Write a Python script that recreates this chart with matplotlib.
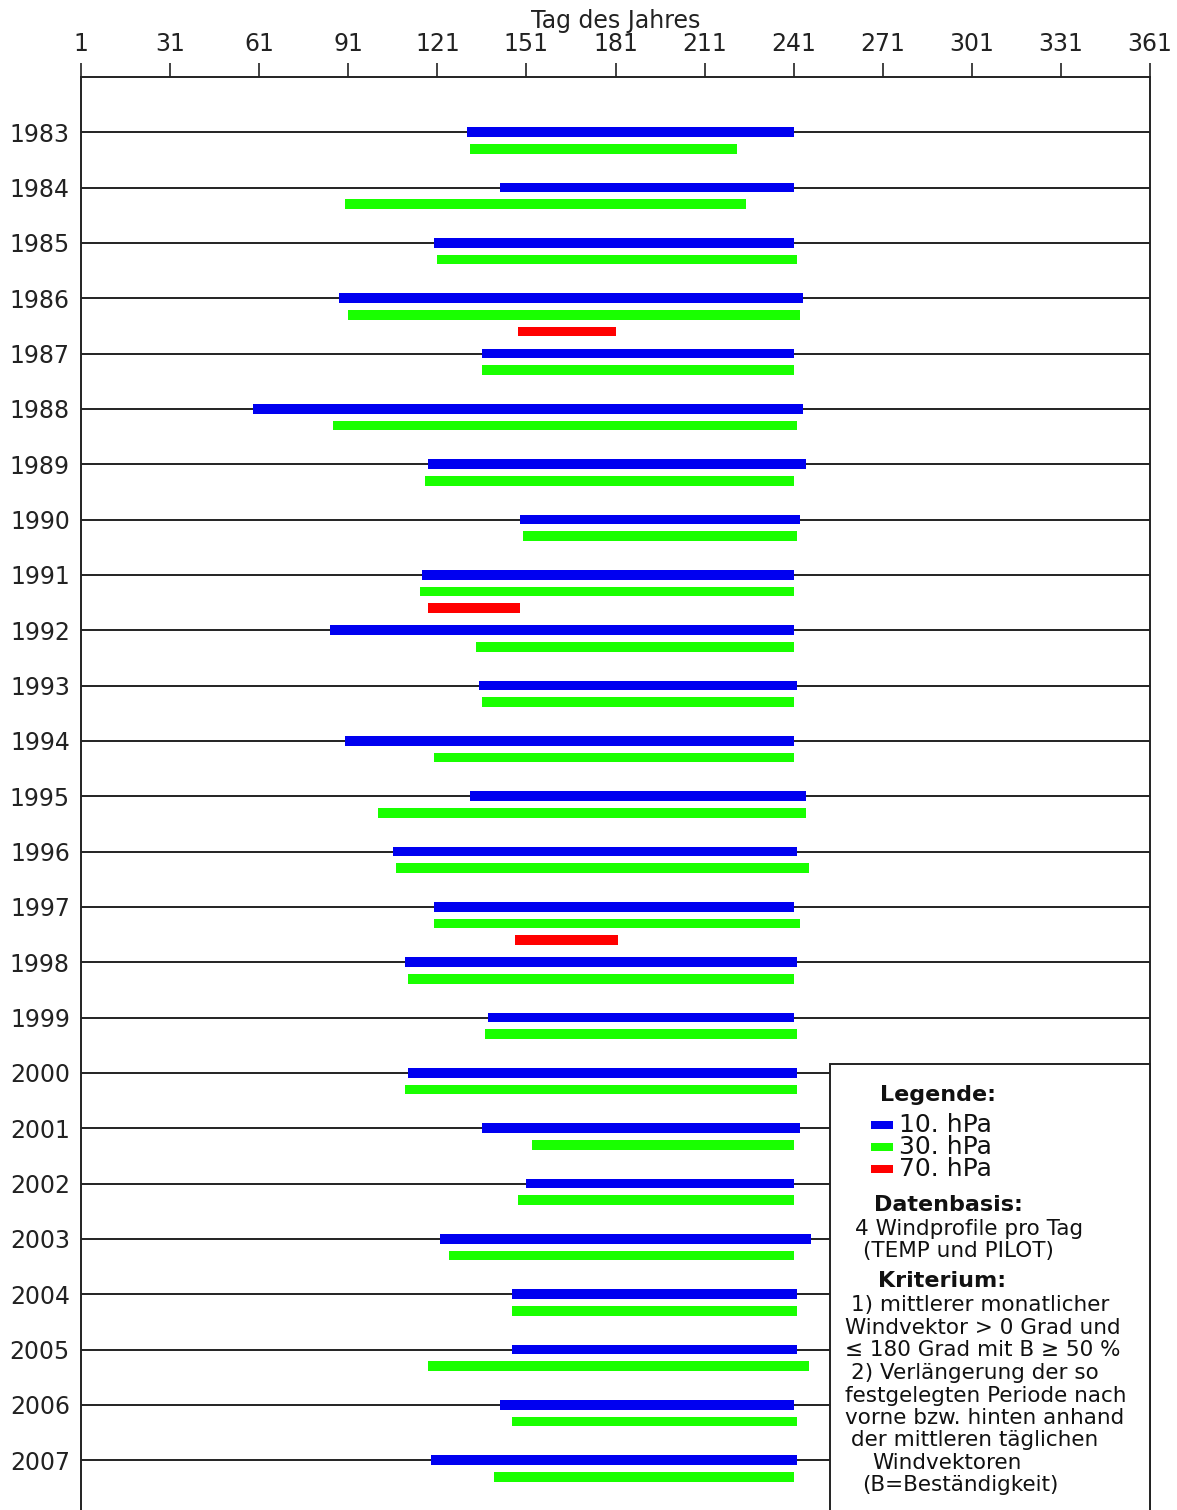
import matplotlib
matplotlib.use("Agg")
import matplotlib.pyplot as plt
from matplotlib.patches import Rectangle

# Ostwind-Perioden (Tag des Jahres) je Jahr und Druckniveau
years = list(range(1983, 2008))
blue_start = [131, 142, 120, 88, 136, 59, 118, 149, 116, 85, 135, 90, 132,
              106, 120, 110, 138, 111, 136, 151, 122, 146, 146, 142, 119]
blue_end = [241, 241, 241, 244, 241, 244, 245, 243, 241, 241, 242, 241, 245,
            242, 241, 242, 241, 242, 243, 241, 247, 242, 242, 241, 242]
green_start = [132, 90, 121, 91, 136, 86, 117, 150, 115, 134, 136, 120, 101,
               107, 120, 111, 137, 110, 153, 148, 125, 146, 118, 146, 140]
green_end = [222, 225, 242, 243, 241, 242, 241, 242, 241, 241, 241, 241, 245,
             246, 243, 241, 242, 242, 241, 241, 241, 242, 246, 242, 241]
red_years = [1986, 1991, 1997]
red_start = [148, 118, 147]
red_end = [181, 149, 182]
day_ticks = list(range(1, 362, 30))

W, H = 1177, 1510
BLUE, GREEN, RED = "#0000f0", "#19ff00", "#ff0000"

fig = plt.figure(figsize=(W / 100, H / 100), dpi=100)
ax = fig.add_axes([81 / W, 0, (1150 - 81) / W, 1 - 77 / H])

ax.set_xlim(1, 361)
ax.set_ylim(2007.9, 1982)

for y in years:
    ax.axhline(y, color="#222222", lw=1.4, zorder=1)

bh = 0.175
ax.barh(years, [e - s for s, e in zip(blue_start, blue_end)], left=blue_start,
        height=bh, color=BLUE, zorder=3)
ax.barh([y + 0.3 for y in years], [e - s for s, e in zip(green_start, green_end)],
        left=green_start, height=bh, color=GREEN, zorder=3)
ax.barh([y + 0.6 for y in red_years], [e - s for s, e in zip(red_start, red_end)],
        left=red_start, height=bh, color=RED, zorder=3)

ax.xaxis.tick_top()
ax.xaxis.set_label_position("top")
ax.set_xticks(day_ticks)
ax.tick_params(axis="x", direction="out", length=10, width=1.2, pad=5,
               labelsize=17, colors="#222222")
ax.set_xlabel("Tag des Jahres", fontsize=17, labelpad=3, color="#222222")
ax.set_yticks(years)
ax.tick_params(axis="y", length=0, pad=8, labelsize=17, colors="#222222")
for s in ["left", "right", "top"]:
    ax.spines[s].set_linewidth(1.4)
    ax.spines[s].set_color("#222222")
ax.spines["bottom"].set_visible(False)

# Legendenkasten
ax.add_patch(Rectangle((253.3, 1999.84), 361 - 253.3, 10, facecolor="white",
                       edgecolor="#222222", lw=1.4, zorder=5, clip_on=False))


def ftxt(px, py, s, **kw):
    fig.text(px / W, 1 - py / H, s, va="center", ha="left", zorder=10,
             color="#111111", **kw)


ftxt(880, 1095, "Legende:", fontsize=16, fontweight="bold")
for py, col, lab in [(1125, BLUE, "10. hPa"), (1147, GREEN, "30. hPa"), (1169, RED, "70. hPa")]:
    fig.patches.append(Rectangle((871 / W, 1 - (py + 4) / H), 22 / W, 8 / H,
                                 transform=fig.transFigure, facecolor=col,
                                 edgecolor="none", zorder=10))
    ftxt(899, py, lab, fontsize=18)
ftxt(874, 1205, "Datenbasis:", fontsize=16, fontweight="bold")
ftxt(855, 1229, "4 Windprofile pro Tag", fontsize=15.5)
ftxt(863, 1251, "(TEMP und PILOT)", fontsize=15.5)
ftxt(878, 1281, "Kriterium:", fontsize=16, fontweight="bold")
lines = [
    (851, 1305, "1) mittlerer monatlicher"),
    (845, 1328, "Windvektor > 0 Grad und"),
    (845, 1350, "≤ 180 Grad mit B ≥ 50 %"),
    (851, 1373, "2) Verlängerung der so"),
    (845, 1396, "festgelegten Periode nach"),
    (845, 1418, "vorne bzw. hinten anhand"),
    (851, 1440, "der mittleren täglichen"),
    (872, 1463, "Windvektoren"),
    (862, 1485, "(B=Beständigkeit)"),
]
for px, py, s in lines:
    ftxt(px, py, s, fontsize=15.5)

fig.savefig("out.png", dpi=100)
